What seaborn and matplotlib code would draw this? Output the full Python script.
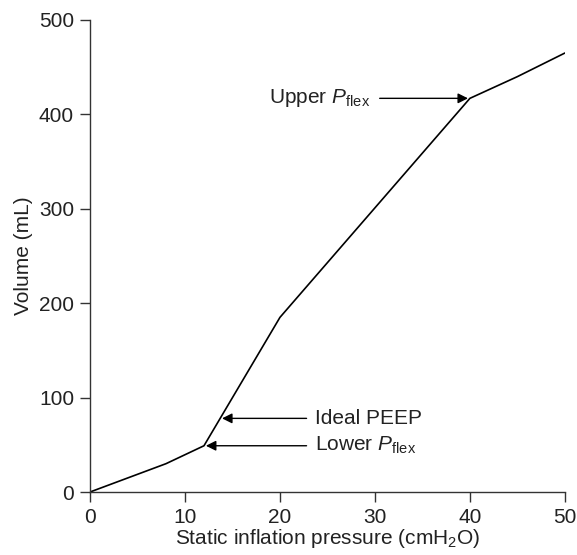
import matplotlib
matplotlib.use("Agg")
import matplotlib.pyplot as plt
import seaborn as sns
import pandas as pd

# pressure-volume curve
pressure = [0, 8, 12, 20, 40, 45, 50]
volume = [0, 30, 49, 185, 417, 440, 465]

# annotations: label, target point (x, y), arrow tail x
labels = ["Upper $P_{\\mathrm{flex}}$", "Ideal PEEP", "Lower $P_{\\mathrm{flex}}$"]
targets_x = [39.8, 13.9, 12.2]
targets_y = [417, 78, 49]
tails_x = [30.5, 22.8, 22.8]

sns.set_style("ticks")
plt.rcParams['font.family'] = ['Liberation Sans', 'DejaVu Sans']
plt.rcParams['mathtext.fontset'] = 'custom'
plt.rcParams['mathtext.it'] = 'Liberation Sans:italic'
plt.rcParams['mathtext.rm'] = 'Liberation Sans'

FS = 15
df = pd.DataFrame({"pressure": pressure, "volume": volume})

fig = plt.figure(figsize=(5.77, 5.55), dpi=100)
ax = fig.add_axes([0.156, 0.1135, 0.823, 0.8505])
sns.lineplot(data=df, x="pressure", y="volume", color="black", linewidth=1.2, ax=ax)

for lab, tx, ty, sx in zip(labels, targets_x, targets_y, tails_x):
    ax.annotate("", xy=(tx, ty), xytext=(sx, ty),
                arrowprops=dict(arrowstyle="-|>", color="black", lw=1.0,
                                mutation_scale=15, shrinkA=0, shrinkB=0))
    if lab.startswith("Upper"):
        ax.text(sx - 1.0, ty, lab, ha="right", va="center", fontsize=FS, color="#222222")
    else:
        ax.text(sx + 0.9, ty, lab, ha="left", va="center", fontsize=FS, color="#222222")

ax.set_xlim(0, 50)
ax.set_ylim(0, 500)
ax.set_xticks([0, 10, 20, 30, 40, 50])
ax.set_yticks([0, 100, 200, 300, 400, 500])
ax.tick_params(labelsize=FS, length=7.5, width=1, pad=4, color="#333333", labelcolor="#222222")
ax.set_xlabel("Static inflation pressure (cmH$_2$O)", fontsize=FS, labelpad=0, color="#222222")
ax.set_ylabel("Volume (mL)", fontsize=FS, labelpad=4, color="#222222")
for s in ["left", "bottom"]:
    ax.spines[s].set_linewidth(1.0)
    ax.spines[s].set_color("#333333")
sns.despine(ax=ax)

fig.savefig("out.png", dpi=100)
